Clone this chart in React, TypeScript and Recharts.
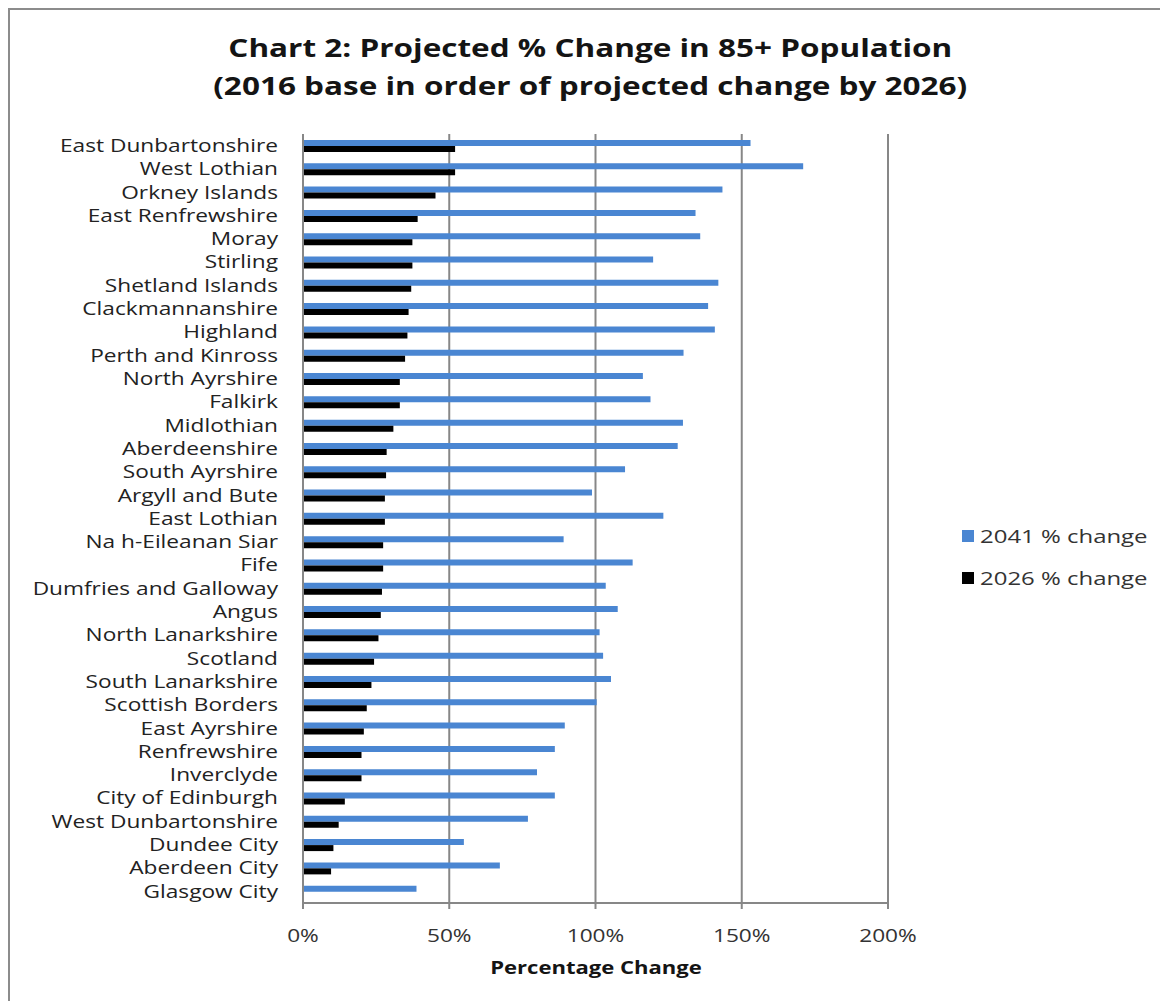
import React from 'react';
import { BarChart, Bar, XAxis, YAxis, CartesianGrid } from 'recharts';

// council areas, ordered by projected change to 2026
const areas = [
  'East Dunbartonshire', 'West Lothian', 'Orkney Islands', 'East Renfrewshire', 'Moray',
  'Stirling', 'Shetland Islands', 'Clackmannanshire', 'Highland', 'Perth and Kinross',
  'North Ayrshire', 'Falkirk', 'Midlothian', 'Aberdeenshire', 'South Ayrshire',
  'Argyll and Bute', 'East Lothian', 'Na h-Eileanan Siar', 'Fife', 'Dumfries and Galloway',
  'Angus', 'North Lanarkshire', 'Scotland', 'South Lanarkshire', 'Scottish Borders',
  'East Ayrshire', 'Renfrewshire', 'Inverclyde', 'City of Edinburgh', 'West Dunbartonshire',
  'Dundee City', 'Aberdeen City', 'Glasgow City',
];

const change2041 = [
  153, 171, 143.4, 134.2, 135.8,
  119.7, 142, 138.5, 140.8, 130.1,
  116.2, 118.8, 129.9, 128.1, 110.1,
  98.8, 123.2, 89.1, 112.7, 103.5,
  107.6, 101.4, 102.6, 105.3, 100.4,
  89.5, 86.1, 80, 86.1, 76.9,
  55, 67.3, 38.8,
];

const change2026 = [
  52, 52, 45.3, 39.2, 37.4,
  37.4, 37, 36.1, 35.7, 34.9,
  33.1, 33.1, 30.9, 28.6, 28.4,
  28, 28, 27.4, 27.4, 27,
  26.6, 25.8, 24.3, 23.4, 21.8,
  20.8, 20, 20, 14.3, 12.2,
  10.4, 9.6, 0,
];

const xTicks = [0, 50, 100, 150, 200];

const data = areas.map((area, i) => ({
  area,
  c2041: change2041[i],
  c2026: change2026[i],
}));

const FONT = '"Open Sans", sans-serif';
const BLUE = '#4a86d2';
const GRID = '#878787';
// the original's text is a little wider than it is tall
const STRETCH = 1.26;

const CategoryTick = (props: any) => {
  const { x, y, payload } = props;
  return (
    <g transform={`translate(${x},${y})`}>
      <text
        x={0}
        y={0}
        dy="0.35em"
        textAnchor="end"
        transform={`scale(${STRETCH},1)`}
        fontSize={18}
        fill="#222"
        fontFamily={FONT}
      >
        {payload.value}
      </text>
    </g>
  );
};

const PercentTick = (props: any) => {
  const { x, y, payload } = props;
  return (
    <g transform={`translate(${x},${y})`}>
      <text
        x={0}
        y={0}
        dy="0.71em"
        textAnchor="middle"
        transform={`scale(${STRETCH},1)`}
        fontSize={18}
        fill="#333"
        fontFamily={FONT}
      >
        {`${payload.value}%`}
      </text>
    </g>
  );
};

const stretched = (origin: string): React.CSSProperties => ({
  display: 'inline-block',
  transform: `scaleX(${STRETCH})`,
  transformOrigin: origin,
});

export default function App() {
  return (
    <div
      style={{
        position: 'relative',
        width: 1160,
        height: 993,
        boxSizing: 'border-box',
        border: '2px solid #8c8c8c',
        borderBottom: 'none',
        fontFamily: FONT,
        background: '#fff',
      }}
    >
      <div
        style={{
          position: 'absolute',
          left: 0,
          top: 18,
          width: 1160,
          textAlign: 'center',
          fontWeight: 700,
          fontSize: 25,
          lineHeight: '38px',
          color: '#141414',
        }}
      >
        <div><span style={stretched('center')}>Chart 2: Projected % Change in 85+ Population</span></div>
        <div><span style={stretched('center')}>(2016 base in order of projected change by 2026)</span></div>
      </div>

      <BarChart
        width={1156}
        height={991}
        data={data}
        layout="vertical"
        barGap={0}
        margin={{ top: 124, right: 278, bottom: 38, left: 0 }}
        style={{ position: 'absolute', left: 0, top: 0 }}
      >
        <CartesianGrid horizontal={false} stroke={GRID} strokeWidth={2} />
        <XAxis
          type="number"
          domain={[0, 200]}
          ticks={xTicks}
          height={60}
          axisLine={{ stroke: GRID, strokeWidth: 2 }}
          tickLine={{ stroke: GRID, strokeWidth: 2 }}
          tickSize={6}
          tickMargin={20}
          tick={<PercentTick />}
        />
        <YAxis
          type="category"
          dataKey="area"
          width={293}
          interval={0}
          axisLine={{ stroke: GRID, strokeWidth: 2 }}
          tickLine={false}
          tickMargin={19}
          tick={<CategoryTick />}
        />
        <Bar dataKey="c2041" name="2041 % change" fill={BLUE} barSize={6} isAnimationActive={false} />
        <Bar dataKey="c2026" name="2026 % change" fill="#000" barSize={6} isAnimationActive={false} />
      </BarChart>

      <div
        style={{
          position: 'absolute',
          left: 0,
          top: 945,
          width: 1172,
          textAlign: 'center',
          fontWeight: 700,
          fontSize: 17.5,
          color: '#141414',
        }}
      >
        <span style={stretched('center')}>Percentage Change</span>
      </div>

      <div style={{ position: 'absolute', left: 952, top: 505, fontSize: 19, color: '#333' }}>
        {[
          { label: '2041 % change', color: BLUE },
          { label: '2026 % change', color: '#000' },
        ].map((item) => (
          <div key={item.label} style={{ display: 'flex', alignItems: 'center', height: 42 }}>
            <span style={{ width: 12, height: 12, background: item.color, marginRight: 6 }} />
            <span style={stretched('left')}>{item.label}</span>
          </div>
        ))}
      </div>
    </div>
  );
}
